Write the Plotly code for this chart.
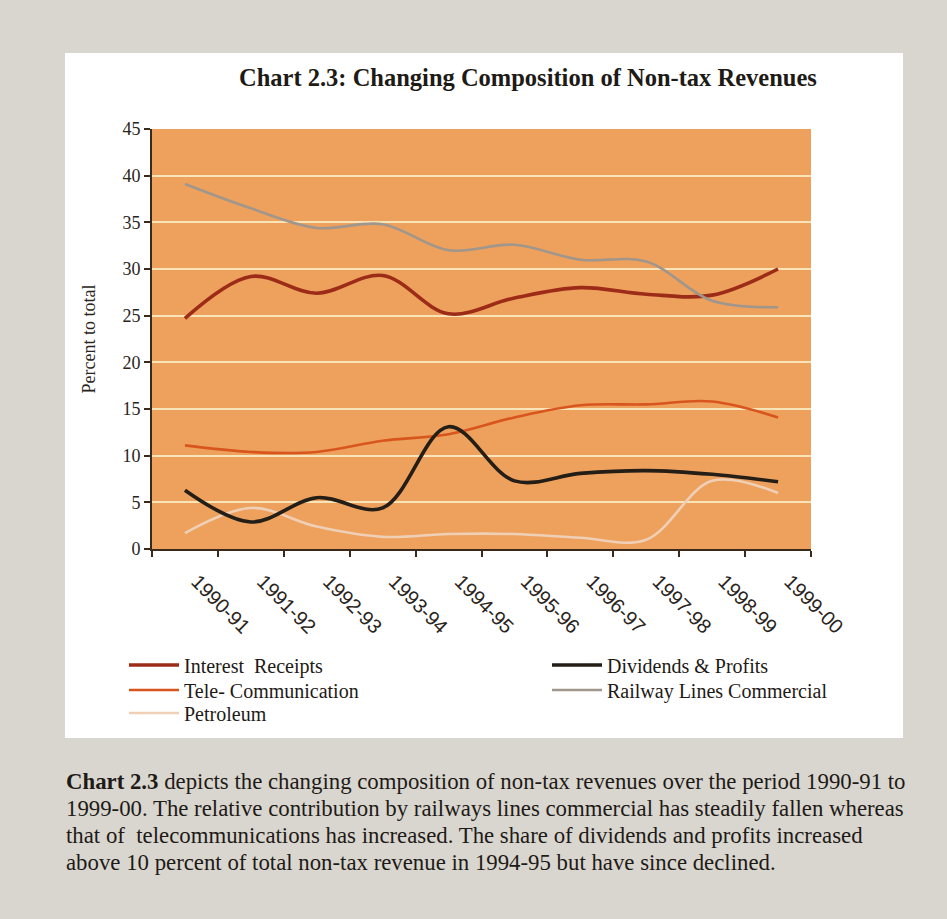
import plotly.graph_objects as go

# Fiscal years on the category axis
years = ["1990-91", "1991-92", "1992-93", "1993-94", "1994-95",
         "1995-96", "1996-97", "1997-98", "1998-99", "1999-00"]

# Share of total non-tax revenue (percent)
interest_receipts = [24.7, 29.2, 27.4, 29.3, 25.2, 26.9, 28.0, 27.3, 27.2, 30.0]
tele_communication = [11.1, 10.4, 10.4, 11.6, 12.3, 14.1, 15.4, 15.5, 15.8, 14.1]
petroleum = [1.7, 4.4, 2.4, 1.3, 1.6, 1.6, 1.2, 1.0, 7.3, 6.0]
dividends_profits = [6.3, 2.9, 5.5, 4.4, 13.1, 7.3, 8.1, 8.4, 8.0, 7.2]
railway_commercial = [39.1, 36.5, 34.4, 34.8, 32.0, 32.6, 31.0, 30.8, 26.6, 25.9]

y_ticks = [0, 5, 10, 15, 20, 25, 30, 35, 40, 45]

W, H = 947, 919
PL, PR, PT, PB = 152, 811, 129, 549   # plot area edges in pixels
pw, ph = PR - PL, PB - PT


def px_x(x):
    return (x - PL) / pw


def px_y(y):
    return (PB - y) / ph


serif = "Liberation Serif, Times New Roman, serif"
sans = "Liberation Sans, Arial, sans-serif"

# name, values, colour, width, legend id, legend entry position (px)
series = [
    ("Interest  Receipts", interest_receipts, "#9C2B17", 3.6, "legend", (124, 665)),
    ("Tele- Communication", tele_communication, "#D8551D", 2.6, "legend2", (124, 690)),
    ("Petroleum", petroleum, "#EFCFB6", 2.6, "legend3", (124, 713)),
    ("Dividends & Profits", dividends_profits, "#241E17", 3.6, "legend4", (547, 665)),
    ("Railway Lines Commercial", railway_commercial, "#A0968B", 2.6, "legend5", (547, 690)),
]

fig = go.Figure()
for name, vals, color, width, leg, _ in series:
    fig.add_trace(go.Scatter(
        x=years, y=vals, name=name, mode="lines", legend=leg,
        line=dict(color=color, width=width, shape="spline", smoothing=1.0),
        hoverinfo="skip",
    ))

shapes = [
    # white page panel holding the chart
    dict(type="rect", xref="paper", yref="paper", layer="below",
         x0=px_x(65), x1=px_x(903), y0=px_y(738), y1=px_y(53),
         fillcolor="#FFFFFF", line=dict(width=0)),
    # orange plotting field
    dict(type="rect", xref="paper", yref="paper", layer="below",
         x0=0, x1=1, y0=0, y1=1,
         fillcolor="#EDA15D", line=dict(width=0)),
]

annotations = [
    dict(text="<b>Chart 2.3: Changing Composition of Non-tax Revenues</b>",
         xref="paper", yref="paper", x=px_x(528), y=px_y(77),
         xanchor="center", yanchor="middle", showarrow=False,
         font=dict(family=serif, size=24.5, color="#1E1A16")),
]

paragraph = [
    "<b>Chart 2.3</b> depicts the changing composition of non-tax revenues over the period 1990-91 to",
    "1999-00. The relative contribution by railways lines commercial has steadily fallen whereas",
    "that of  telecommunications has increased. The share of dividends and profits increased",
    "above 10 percent of total non-tax revenue in 1994-95 but have since declined.",
]
for i, line in enumerate(paragraph):
    annotations.append(dict(
        text=line, xref="paper", yref="paper",
        x=px_x(64), y=px_y(781 + i * 27.3),
        xanchor="left", yanchor="middle", showarrow=False,
        font=dict(family=serif, size=22.8, color="#1E1A16"),
    ))

legend_style = dict(
    orientation="v", xref="paper", yref="paper", yanchor="middle", xanchor="left",
    bgcolor="rgba(0,0,0,0)", borderwidth=0, tracegroupgap=0, itemwidth=50,
    font=dict(family=serif, size=20, color="#1E1A16"),
)
legends = {leg: dict(legend_style, x=px_x(pos[0]), y=px_y(pos[1]))
           for _, _, _, _, leg, pos in series}

fig.update_layout(
    width=W, height=H,
    margin=dict(l=PL, r=W - PR, t=PT, b=H - PB, pad=0),
    paper_bgcolor="#D9D6D0",
    plot_bgcolor="rgba(0,0,0,0)",
    shapes=shapes,
    annotations=annotations,
    showlegend=True,
    **legends,
    xaxis=dict(
        type="category", range=[-0.5, 9.5],
        tickson="boundaries", ticks="outside", ticklen=6, tickwidth=1.5,
        tickcolor="#3A2A1C", showline=True, linecolor="#3A2A1C", linewidth=2,
        showgrid=False, tickangle=45, ticklabelstandoff=11, ticklabelshift=12,
        tickfont=dict(family=sans, size=20, color="#2A2420"),
    ),
    yaxis=dict(
        range=[0, 45], tickvals=y_ticks, ticks="outside", ticklen=6,
        tickwidth=1.5, tickcolor="#3A2A1C", showline=True,
        linecolor="#3A2A1C", linewidth=2,
        showgrid=True, gridcolor="#F7E4B8", gridwidth=2, zeroline=False,
        tickfont=dict(family=serif, size=18, color="#2A2420"),
        title=dict(text="Percent to total", standoff=22,
                   font=dict(family=serif, size=18, color="#2A2420")),
    ),
)

fig.write_html("out.html")
